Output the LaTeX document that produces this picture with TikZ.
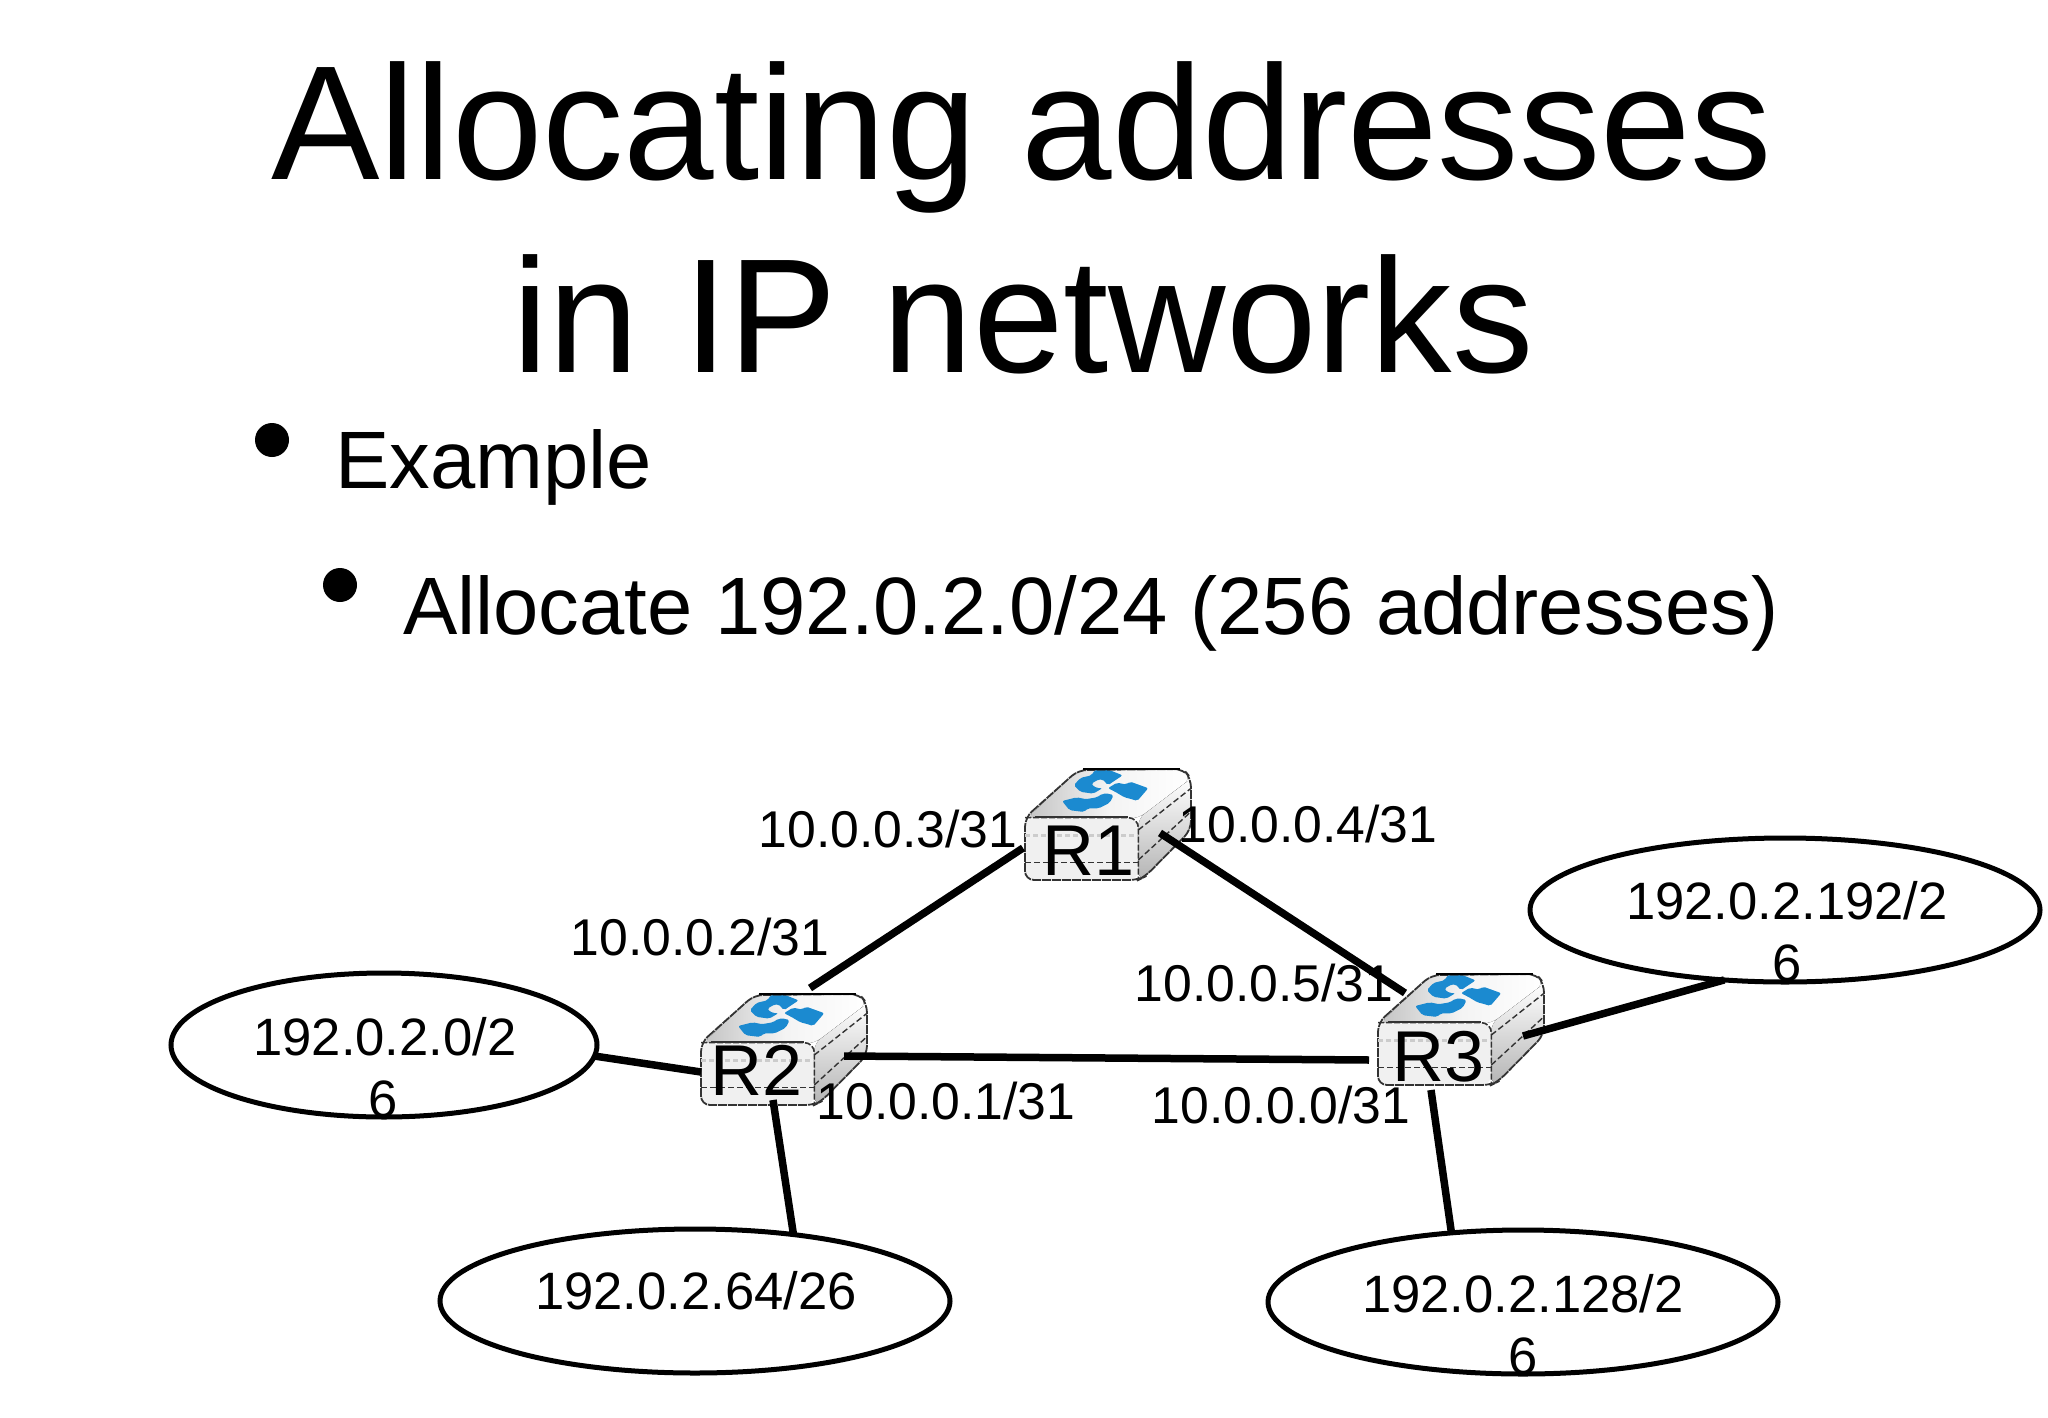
\documentclass[tikz,border=0pt]{standalone}
\usepackage{fontspec}
\setmainfont{Liberation Sans}
\usetikzlibrary{shapes.geometric}
\newcommand{\fs}[1]{\fontsize{#1}{#1}\selectfont}
\tikzset{
  x=1pt,y=-1pt,
  link/.style={line width=7.5pt,black},
  subnet/.style={draw=black,line width=5pt,ellipse,inner sep=0pt,outer sep=0pt,fill=none},
  addr/.style={anchor=base,inner sep=0pt,font=\fs{51.7}},
  netlabel/.style={anchor=base,inner sep=0pt,font=\fs{52.6}},
  rlabel/.style={anchor=base,inner sep=0pt,font=\fs{72}},
  titletext/.style={anchor=base,inner sep=0pt,font=\fs{162.7}},
  bodytext/.style={anchor=base west,inner sep=0pt,font=\fs{81.4}},
  bul/.style={circle,fill=black,inner sep=0pt,minimum size=34pt},
  routerbox/.pic={
    \begin{scope}[x=0.3333pt,y=-0.3333pt]
      % side
      \fill[top color=white,bottom color=routerside,rounded corners=8pt] (415,205) -- (573,85) -- (573,240) -- (435,380) -- (415,390) -- cycle;
      % top
      \fill[left color=routerside!80!white,right color=white,middle color=routerside!15!white,rounded corners=8pt] (80,205) -- (235,60) -- (550,57) -- (573,85) -- (415,205) -- cycle;
      % front
      \fill[routerfront,rounded corners=10pt] (75,203) -- (415,203) -- (415,390) -- (75,390) -- cycle;
      % icon, three swirling arrows
      \begin{scope}[shift={(180,45)},shift={(135,75)},scale=1.1,shift={(-135,-75)},shift={(-2,0)}]
        \fill[routerblue,rounded corners=2pt] (52,62) -- (70,42) -- (100,35) -- (110,20) -- (135,15) -- (185,35) -- (145,62) -- (130,45) -- (110,50) -- (100,60) -- (115,70) -- (130,70) -- (105,85) -- (70,80) -- cycle;
        \fill[routerblue,rounded corners=2pt] (145,70) -- (170,55) -- (195,60) -- (205,52) -- (255,70) -- (225,105) -- (210,100) -- (190,95) -- (165,80) -- cycle;
        \fill[routerblue,rounded corners=2pt] (20,105) -- (60,95) -- (85,100) -- (115,95) -- (130,85) -- (150,85) -- (160,90) -- (150,110) -- (120,125) -- (90,125) -- (80,135) -- (40,130) -- cycle;
      \end{scope}
      % outline and dashes
      \draw[routerline,line width=1.8pt,dash pattern=on 9pt off 1pt,rounded corners=9pt] (75,203) -- (235,60) -- (550,57) -- (573,85) -- (573,240) -- (435,380) -- (415,390) -- (75,390) -- cycle;
      \draw[black,line width=2.6pt] (250,57) -- (540,57);
      \draw[black!80,line width=2.2pt] (105,200) -- (385,200);
      \draw[routerline,line width=1.6pt,rounded corners=10pt,dash pattern=on 6pt off 2pt] (75,203) -- (415,203) -- (415,390);
      \draw[routerline,line width=1.6pt,dash pattern=on 6pt off 3pt] (75,338) -- (415,338);
      \draw[gray!40,line width=2.4pt,dash pattern=on 5pt off 3pt] (75,256) -- (415,256);
      \draw[routerline,line width=1.4pt,dash pattern=on 6pt off 3pt] (415,240) -- (573,115);
      \draw[routerline,line width=1.4pt,dash pattern=on 6pt off 3pt] (415,330) -- (573,185);
    \end{scope}
  },
}
\definecolor{routerside}{HTML}{B4B4B4}
\definecolor{routerfront}{HTML}{F0F0F0}
\definecolor{routerblue}{HTML}{1B8AD0}
\definecolor{routerline}{HTML}{333333}
\begin{document}
\begin{tikzpicture}
\useasboundingbox (0,0) rectangle (2048,1418);
\fill[white] (0,0) rectangle (2048,1418);
% title and bullets
\node[titletext] (t1) at (1022,179) {Allocating addresses};
\node[titletext] (t2) at (1023,372) {in IP networks};
\node[bul] (b1) at (272,440) {};
\node[bodytext] (l1) at (335,488) {Example};
\node[bul] (b2) at (340,585) {};
\node[bodytext] (l2) at (403,634) {Allocate 192.0.2.0/24 (256 addresses)};
% routers
\pic at (1000,750) {routerbox};
\pic at (676,975) {routerbox};
\pic at (1353,955) {routerbox};
\node[rlabel] (r1) at (1089,875) {R1};
\node[rlabel] (r2) at (757,1095) {R2};
\node[rlabel] (r3) at (1439,1081) {R3};
% subnets
\node[subnet,minimum width=426pt,minimum height=144pt] (e1) at (384,1045) {};
\node[subnet,minimum width=510pt,minimum height=144pt] (e2) at (695,1301) {};
\node[subnet,minimum width=510pt,minimum height=144pt] (e3) at (1523,1302) {};
\node[subnet,minimum width=510pt,minimum height=144pt] (e4) at (1785,910) {};
% connectors
\draw[link] ([shift={(-66,-27)}]r1.base) -- ([shift={(53,-107)}]r2.base);
\draw[link] ([shift={(71,-42)}]r1.base) -- ([shift={(-34,-88)}]r3.base);
\draw[link] ([shift={(87,-39)}]r2.base) -- ([shift={(-70,-21)}]r3.base);
\draw[link] (e1.-3) -- ([shift={(-56,-23)}]r2.base);
\draw[link] ([shift={(16,5)}]r2.base) -- (e2.34);
\draw[link] ([shift={(-8,9)}]r3.base) -- (e3.136);
\draw[link] ([shift={(84,-45)}]r3.base) -- (e4.229);
% interface labels
\node[addr] (a3) at (888,847) {10.0.0.3/31};
\node[addr] (a2) at (700,955) {10.0.0.2/31};
\node[addr] (a4) at (1308,842) {10.0.0.4/31};
\node[addr] (a5) at (1264,1001) {10.0.0.5/31};
\node[addr] (a1) at (946,1119) {10.0.0.1/31};
\node[addr] (a0) at (1281,1123) {10.0.0.0/31};
% subnet labels
\node[netlabel] (s1a) at (385,1055) {192.0.2.0/2};
\node[netlabel] (s1b) at (383,1117) {6};
\node[netlabel] (s2) at (696,1309) {192.0.2.64/26};
\node[netlabel] (s3a) at (1523,1312) {192.0.2.128/2};
\node[netlabel] (s3b) at (1523,1374) {6};
\node[netlabel] (s4a) at (1787,919) {192.0.2.192/2};
\node[netlabel] (s4b) at (1787,981) {6};
\end{tikzpicture}
\end{document}
